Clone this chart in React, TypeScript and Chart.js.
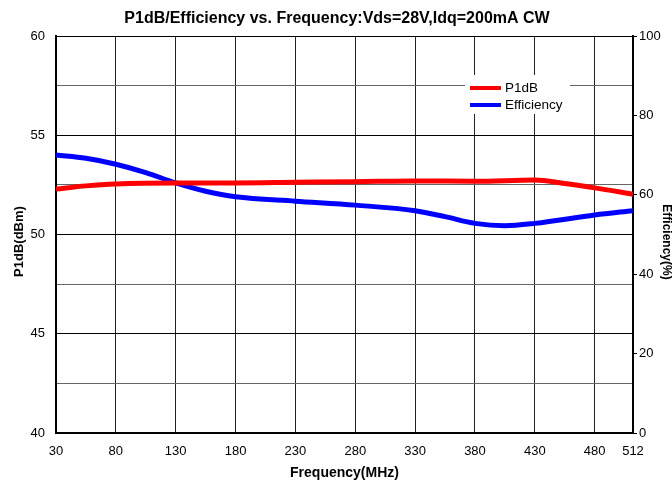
import React, { useEffect, useRef } from 'react';
import { Chart, registerables } from 'chart.js';

Chart.register(...registerables);

const TITLE = 'P1dB/Efficiency vs. Frequency:Vds=28V,Idq=200mA CW';
const X_TITLE = 'Frequency(MHz)';
const Y_LEFT_TITLE = 'P1dB(dBm)';
const Y_RIGHT_TITLE = 'Efficiency(%)';

const xTicks = [30, 80, 130, 180, 230, 280, 330, 380, 430, 480, 512];
const leftTicks = [40, 42.5, 45, 47.5, 50, 52.5, 55, 57.5, 60];
const rightTicks = [0, 20, 40, 60, 80, 100];

const p1dbFreq = [30, 55, 80, 130, 180, 230, 280, 330, 380, 430, 455, 480, 512];
const p1dbValues = [52.29, 52.45, 52.55, 52.6, 52.6, 52.63, 52.66, 52.7, 52.68, 52.74, 52.57, 52.35, 52.03];

const effFreq = [30, 55, 80, 105, 130, 155, 180, 230, 280, 330, 355, 380, 405, 430, 480, 512];
const effValues = [70.0, 69.2, 67.7, 65.6, 63.0, 60.9, 59.5, 58.4, 57.4, 56.0, 54.5, 52.8, 52.2, 52.8, 54.9, 56.0];

const FONT = "'Liberation Sans', Arial, Helvetica, sans-serif";

const textPlugin = {
  id: 'textPlugin',
  afterDraw(chart: any) {
    const ctx = chart.ctx;
    const area = chart.chartArea;
    ctx.save();
    ctx.fillStyle = '#000';
    // main title
    ctx.font = `bold 16px ${FONT}`;
    ctx.textAlign = 'center';
    ctx.textBaseline = 'alphabetic';
    ctx.fillText(TITLE, chart.width / 2 + 1, 23);
    // x title
    ctx.font = `bold 14px ${FONT}`;
    ctx.fillText(X_TITLE, (area.left + area.right) / 2, 477);
    // left title
    ctx.save();
    ctx.translate(19, 241.5);
    ctx.rotate(-Math.PI / 2);
    ctx.font = `bold 13px ${FONT}`;
    ctx.textBaseline = 'middle';
    ctx.fillText(Y_LEFT_TITLE, 0, 0);
    ctx.restore();
    // right title
    ctx.save();
    ctx.translate(666, 242);
    ctx.rotate(Math.PI / 2);
    ctx.font = `bold 12px ${FONT}`;
    ctx.textBaseline = 'middle';
    ctx.fillText(Y_RIGHT_TITLE, 0, 0);
    ctx.restore();
    // legend
    ctx.fillStyle = '#fff';
    ctx.fillRect(465, 75, 105, 39);
    const rows = [88, 105];
    chart.data.datasets.forEach((ds: any, i: number) => {
      const y = rows[i];
      ctx.strokeStyle = ds.borderColor;
      ctx.lineWidth = 4;
      ctx.beginPath();
      ctx.moveTo(470, y);
      ctx.lineTo(501, y);
      ctx.stroke();
      ctx.fillStyle = '#000';
      ctx.font = `13.5px ${FONT}`;
      ctx.textAlign = 'left';
      ctx.textBaseline = 'middle';
      ctx.fillText(ds.label, 505, y);
    });
    ctx.restore();
  },
};

export default function App() {
  const ref = useRef<HTMLCanvasElement | null>(null);
  useEffect(() => {
    if (!ref.current) return;
    const chart = new Chart(ref.current, {
      type: 'line',
      data: {
        datasets: [
          {
            label: 'P1dB',
            data: p1dbFreq.map((f, i) => ({ x: f, y: p1dbValues[i] })),
            borderColor: '#ff0000',
            backgroundColor: '#ff0000',
            borderWidth: 5,
            pointRadius: 0,
            cubicInterpolationMode: 'monotone',
            yAxisID: 'y',
          },
          {
            label: 'Efficiency',
            data: effFreq.map((f, i) => ({ x: f, y: effValues[i] })),
            borderColor: '#0000ff',
            backgroundColor: '#0000ff',
            borderWidth: 5,
            pointRadius: 0,
            cubicInterpolationMode: 'monotone',
            yAxisID: 'y1',
          },
        ],
      },
      options: {
        animation: false,
        responsive: false,
        maintainAspectRatio: false,
        layout: { padding: { top: 36, left: 0, right: 0, bottom: 0 } },
        plugins: {
          legend: { display: false },
          title: { display: false },
          tooltip: { enabled: false },
        },
        scales: {
          x: {
            type: 'linear',
            min: 30,
            max: 512,
            afterBuildTicks: (s: any) => {
              s.ticks = xTicks.map((v) => ({ value: v }));
            },
            afterFit: (s: any) => {
              s.height = 51;
            },
            grid: { color: '#222', lineWidth: 1, drawTicks: false },
            border: { display: true, color: '#000', width: 2 },
            ticks: {
              color: '#000',
              font: { family: FONT, size: 13 },
              padding: 11,
              maxRotation: 0,
              autoSkip: false,
              callback: (v: any) => String(v),
            },
          },
          y: {
            type: 'linear',
            position: 'left',
            min: 40,
            max: 60,
            afterBuildTicks: (s: any) => {
              s.ticks = leftTicks.map((v) => ({ value: v }));
            },
            afterFit: (s: any) => {
              s.width = 56;
            },
            grid: {
              color: (c: any) => (c.tick && c.tick.value % 5 === 0 ? '#000' : '#666'),
              lineWidth: 1,
              drawTicks: false,
            },
            border: { display: true, color: '#000', width: 2 },
            ticks: {
              color: '#000',
              font: { family: FONT, size: 13 },
              padding: 11,
              autoSkip: false,
              callback: (v: any) => (Number(v) % 5 === 0 ? String(v) : ''),
            },
          },
          y1: {
            type: 'linear',
            position: 'right',
            min: 0,
            max: 100,
            afterBuildTicks: (s: any) => {
              s.ticks = rightTicks.map((v) => ({ value: v }));
            },
            afterFit: (s: any) => {
              s.width = 39;
            },
            grid: { drawOnChartArea: false, color: '#000', tickLength: 4, lineWidth: 1 },
            border: { display: true, color: '#000', width: 2 },
            ticks: {
              color: '#000',
              font: { family: FONT, size: 13 },
              padding: 2,
              autoSkip: false,
              callback: (v: any) => String(v),
            },
          },
        },
      },
      plugins: [textPlugin],
    } as any);
    return () => chart.destroy();
  }, []);
  return (
    <div style={{ position: 'absolute', left: 0, top: 0, width: 672, height: 484, background: '#fff' }}>
      <canvas ref={ref} width={672} height={484} style={{ display: 'block' }} />
    </div>
  );
}
